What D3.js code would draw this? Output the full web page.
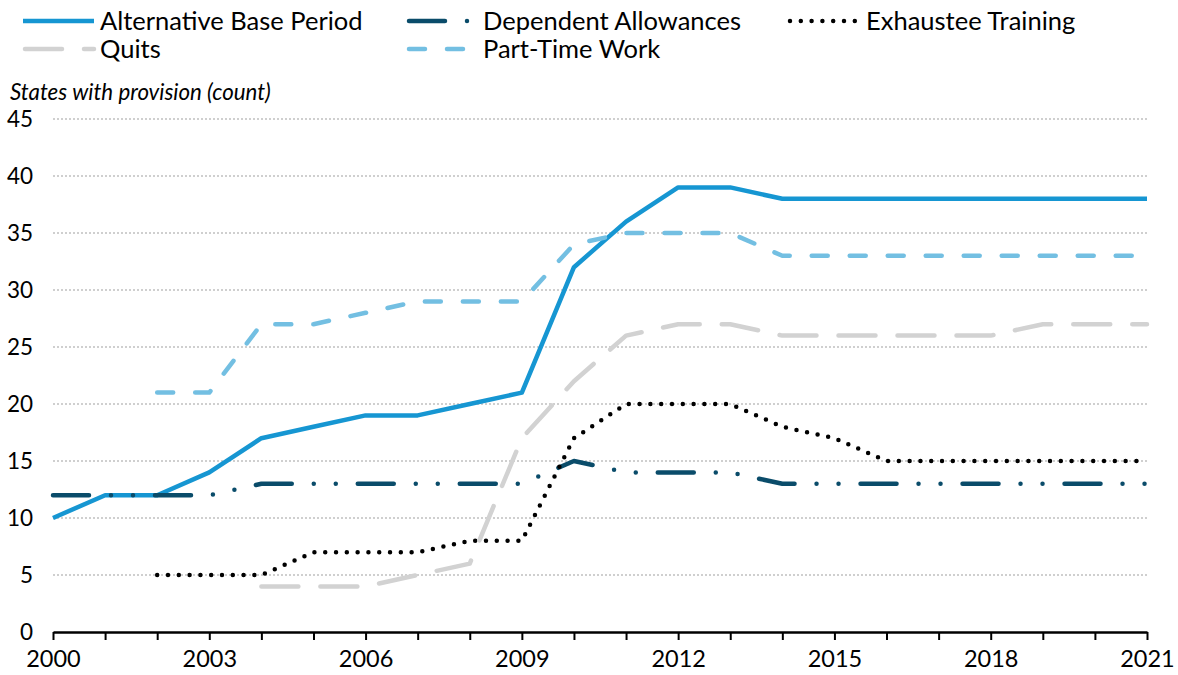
<!DOCTYPE html>
<html><head><meta charset="utf-8">
<script src="https://cdn.jsdelivr.net/npm/d3@7"></script>
<style>body{margin:0;background:#fff}svg{display:block;font-family:Lato,"Open Sans",sans-serif}</style>
</head><body><svg id="c" width="1178" height="675"></svg>
<script>
const years = d3.range(2000, 2022);
const seriesNames = ["Alternative Base Period","Dependent Allowances","Exhaustee Training","Quits","Part-Time Work"];
// values by year 2000..2021, null = no data
const altBasePeriod = [10,12,12,14,17,18,19,19,20,21,32,36,39,39,38,38,38,38,38,38,38,38];
const dependentAllowances = [12,12,12,12,13,13,13,13,13,13,15,14,14,14,13,13,13,13,13,13,13,13];
const exhausteeTraining = [null,null,5,5,5,7,7,7,8,8,17,20,20,20,18,17,15,15,15,15,15,15];
const quits = [null,null,null,null,4,4,4,5,6,17,22,26,27,27,26,26,26,26,26,27,27,27];
const partTimeWork = [null,null,21,21,27,27,28,29,29,29,34,35,35,35,33,33,33,33,33,33,33,33];
const yTicks = [0,5,10,15,20,25,30,35,40,45];
const xTickLabels = [2000,2003,2006,2009,2012,2015,2018,2021];
const yTitle = "States with provision (count)";

const styles = [
  {color:"#1696d2", dash:null},
  {color:"#0a4c6a", dash:"36,22,0,22,0,22"},
  {color:"#000000", dash:"0,10.8"},
  {color:"#d2d2d2", dash:"37,22"},
  {color:"#73bfe2", dash:"16,22"}
];
const data = [altBasePeriod, dependentAllowances, exhausteeTraining, quits, partTimeWork];

const svg = d3.select("#c");
const x = d3.scaleLinear().domain([2000,2021]).range([53,1147]);
const y = d3.scaleLinear().domain([0,45]).range([632,119]);

// grid
svg.append("g").selectAll("line").data(yTicks.filter(d=>d>0)).join("line")
  .attr("x1",53).attr("x2",1147).attr("y1",d=>y(d)).attr("y2",d=>y(d))
  .attr("stroke","#cfcfcf").attr("stroke-width",2).attr("stroke-dasharray","2,2");

// y labels
svg.append("g").selectAll("text").data(yTicks).join("text")
  .attr("x",33).attr("y",d=>y(d)+8).attr("text-anchor","end")
  .attr("font-size",22.5).attr("fill","#000").text(d=>d);

// y title
svg.append("text").attr("x",10).attr("y",100).attr("font-size",22.3)
  .attr("font-style","italic").attr("fill","#000").text(yTitle);

// x axis
const xAxis = d3.axisBottom(x).tickValues(years).tickSize(8).tickSizeOuter(0)
  .tickFormat(d => xTickLabels.includes(d) ? d : "");
const gx = svg.append("g").attr("transform","translate(0,632)").call(xAxis);
gx.select(".domain").attr("stroke","#000").attr("stroke-width",2.5);
gx.selectAll(".tick line").attr("stroke","#000").attr("stroke-width",2);
gx.selectAll(".tick text").attr("font-size",23.5).attr("font-family","Lato").attr("fill","#000").attr("dy","1.0em");

// lines
const line = d3.line().defined(d=>d.v!=null).x(d=>x(d.year)).y(d=>y(d.v));
data.forEach((arr,i)=>{
  const pts = years.map((yr,j)=>({year:yr, v:arr[j]})).filter(d=>d.v!=null);
  svg.append("path").datum(pts).attr("d",line)
    .attr("fill","none").attr("stroke",styles[i].color).attr("stroke-width",4.5)
    .attr("stroke-linecap",styles[i].dash?"round":"butt").attr("stroke-linejoin","round")
    .attr("stroke-dasharray",styles[i].dash);
});

// legend
const legPos = [[23,21],[407,21],[788,21],[23,49],[407,49]];
seriesNames.forEach((name,i)=>{
  const [lx,ly] = legPos[i];
  const g = svg.append("g");
  const len = i===2 ? 70 : 71;
  g.append("line").attr("x1",lx+(styles[i].dash?2:0)).attr("x2",lx+len).attr("y1",ly).attr("y2",ly)
    .attr("stroke",styles[i].color).attr("stroke-width",4.5)
    .attr("stroke-linecap",styles[i].dash?"round":"butt")
    .attr("stroke-dasharray",styles[i].dash);
  g.append("text").attr("x", (i===0||i===3) ? lx+77 : (i===2 ? lx+78 : lx+76)).attr("y",ly+8.5)
    .attr("font-size",25.5).attr("fill","#000").text(name);
});
</script></body></html>
